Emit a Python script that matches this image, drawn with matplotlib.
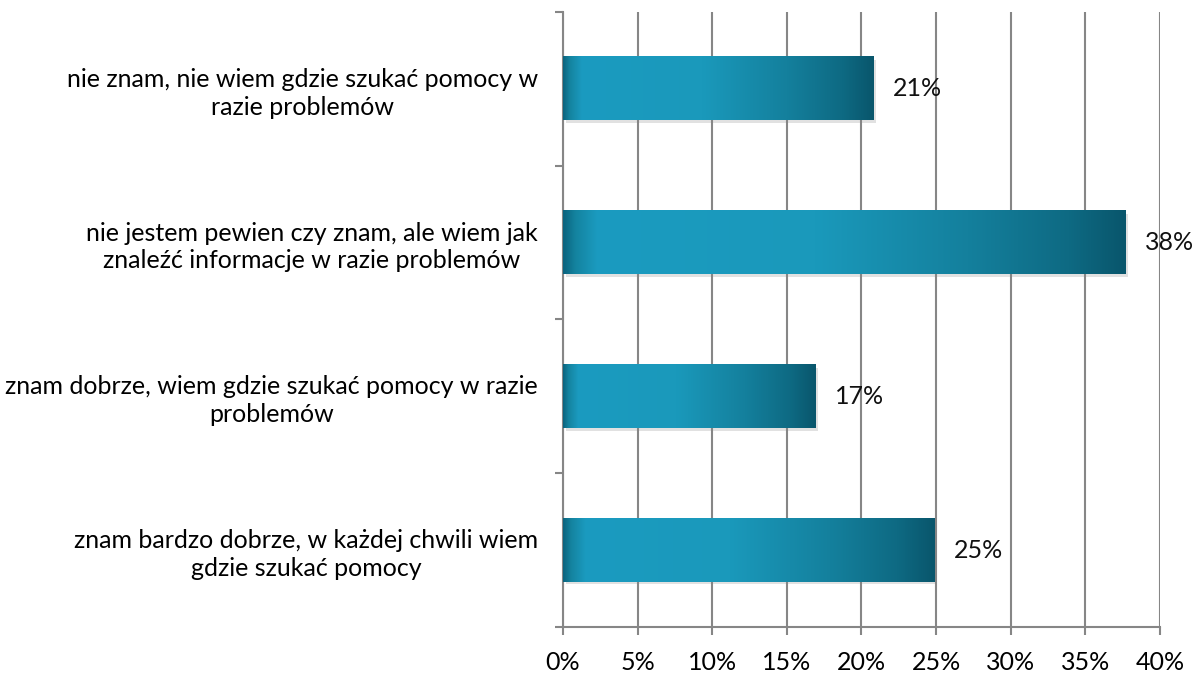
import numpy as np
import matplotlib.pyplot as plt
from matplotlib.colors import LinearSegmentedColormap
import matplotlib.patheffects as pe

plt.rcParams['font.family'] = ['Lato', 'DejaVu Sans']

# odpowiedzi (od dołu do góry) i udziały w %
kategorie = [
    "znam bardzo dobrze, w każdej chwili wiem\ngdzie szukać pomocy",
    "znam dobrze, wiem gdzie szukać pomocy w razie\nproblemów",
    "nie jestem pewien czy znam, ale wiem jak\nznaleźć informacje w razie problemów",
    "nie znam, nie wiem gdzie szukać pomocy w\nrazie problemów",
]
wartosci = [24.9, 16.9, 37.7, 20.8]
x_ticks = [0, 5, 10, 15, 20, 25, 30, 35, 40]

fig = plt.figure(figsize=(11.95, 6.73), dpi=100)
ax = fig.add_axes([0.4711, 0.0684, 0.4996, 0.9138])

gradient = LinearSegmentedColormap.from_list(
    'pasek',
    [(0.0, '#0b6580'), (0.02, '#14839f'), (0.06, '#1b9bc0'),
     (0.45, '#1a99bb'), (0.72, '#14809d'), (0.9, '#0e6a83'), (1.0, '#09566c')])

y = np.arange(len(kategorie))
h = 0.41
bary = ax.barh(y, wartosci, height=h, color='#137c99', zorder=3)
for b in bary:
    b.set_path_effects([pe.SimplePatchShadow(offset=(2, -2), shadow_rgbFace='#888888', alpha=0.25),
                        pe.Normal()])

grad = np.linspace(0, 1, 256).reshape(1, -1)
for yi, v in zip(y, wartosci):
    ax.imshow(grad, cmap=gradient, aspect='auto', extent=(0, v, yi - h / 2, yi + h / 2),
              zorder=4, interpolation='bilinear')
    ax.text(v + 1.3, yi, f"{v:.0f}%", va='center', ha='left', fontsize=18, color='#111111', zorder=5)

ax.set_xlim(0, 40)
ax.set_ylim(-0.5, len(kategorie) - 0.5)
ax.set_xticks(x_ticks)
ax.set_xticklabels([f"{t}%" for t in x_ticks], fontsize=18)
ax.set_yticks(y)
ax.set_yticklabels(kategorie, fontsize=18, multialignment='center', linespacing=1.25)
ax.set_yticks(np.arange(-0.5, len(kategorie)), minor=True)
ax.tick_params(axis='y', which='major', length=0, pad=18)
ax.tick_params(axis='y', which='minor', length=6, width=1.5, color='#868686')
ax.tick_params(axis='x', length=6, width=1.5, color='#868686', pad=11)

ax.grid(axis='x', color='#868686', linewidth=1.5, zorder=0)
ax.set_axisbelow(True)
for s in ['top', 'right']:
    ax.spines[s].set_visible(False)
for s in ['left', 'bottom']:
    ax.spines[s].set_color('#868686')
    ax.spines[s].set_linewidth(1.5)

fig.savefig('out.png', dpi=100)
